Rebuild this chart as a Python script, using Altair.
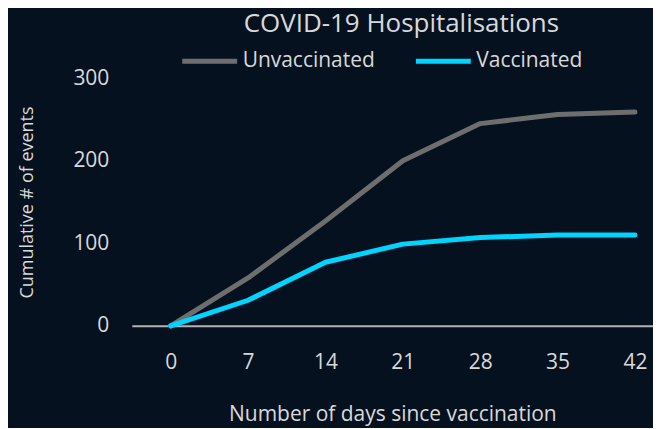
import altair as alt
import pandas as pd

days = [0, 7, 14, 21, 28, 35, 42]
unvaccinated = [0, 58, 127, 200, 245, 256, 259]
vaccinated = [0, 31, 77, 99, 107, 110, 110]
series = ["Unvaccinated", "Vaccinated"]
colors = ["#6e6e6e", "#00d4ff"]
y_ticks = [0, 100, 200, 300]

rows = []
for name, vals in zip(series, [unvaccinated, vaccinated]):
    for d, v in zip(days, vals):
        rows.append({"day": d, "value": v, "group": name})
df = pd.DataFrame(rows)

FONT = "Open Sans"
TXT = "#d9d9d9"
BG = "#05111f"

chart = (
    alt.Chart(df)
    .mark_line(strokeWidth=5, strokeCap="round", strokeJoin="round")
    .encode(
        x=alt.X(
            "day:Q",
            scale=alt.Scale(domain=[-3.52, 43.63], nice=False, zero=False),
            axis=alt.Axis(
                values=days,
                title="Number of days since vaccination",
                grid=False,
                ticks=False,
                domain=True,
                domainColor="#b3b3b3",
                domainWidth=2,
                labelPadding=26,
                labelFontSize=21,
                titleFontSize=21,
                titlePadding=31,
                titleFontWeight="normal",
            ),
        ),
        y=alt.Y(
            "value:Q",
            scale=alt.Scale(domain=[0, 300], nice=False),
            axis=alt.Axis(
                values=y_ticks,
                title="Cumulative # of events",
                grid=False,
                ticks=False,
                domain=False,
                labelPadding=23,
                labelFontSize=21,
                titleFontSize=18,
                titlePadding=36,
                titleFontWeight="normal",
            ),
        ),
        color=alt.Color(
            "group:N",
            scale=alt.Scale(domain=series, range=colors),
            legend=alt.Legend(
                title=None,
                orient="none",
                direction="horizontal",
                legendX=48,
                legendY=-47,
                symbolType="stroke",
                symbolSize=3025,
                symbolStrokeWidth=5,
                labelFontSize=21,
                labelOffset=3,
                columnPadding=30,
            ),
        ),
        order="day:Q",
    )
    .properties(
        width=522,
        height=248,
        title=alt.TitleParams(
            "COVID-19 Hospitalisations",
            fontSize=26,
            fontWeight="normal",
            color=TXT,
            font=FONT,
            anchor="middle",
            offset=-6,
            dx=9,
        ),
        background=BG,
        padding={"left": 10, "top": 3, "right": 0, "bottom": 3},
    )
    .configure_view(stroke=None)
    .configure_axis(
        labelColor=TXT,
        titleColor=TXT,
        labelFont=FONT,
        titleFont=FONT,
    )
    .configure_legend(labelColor=TXT, labelFont=FONT)
)

chart.save("out.html", embed_options={"renderer": "svg", "actions": False})
